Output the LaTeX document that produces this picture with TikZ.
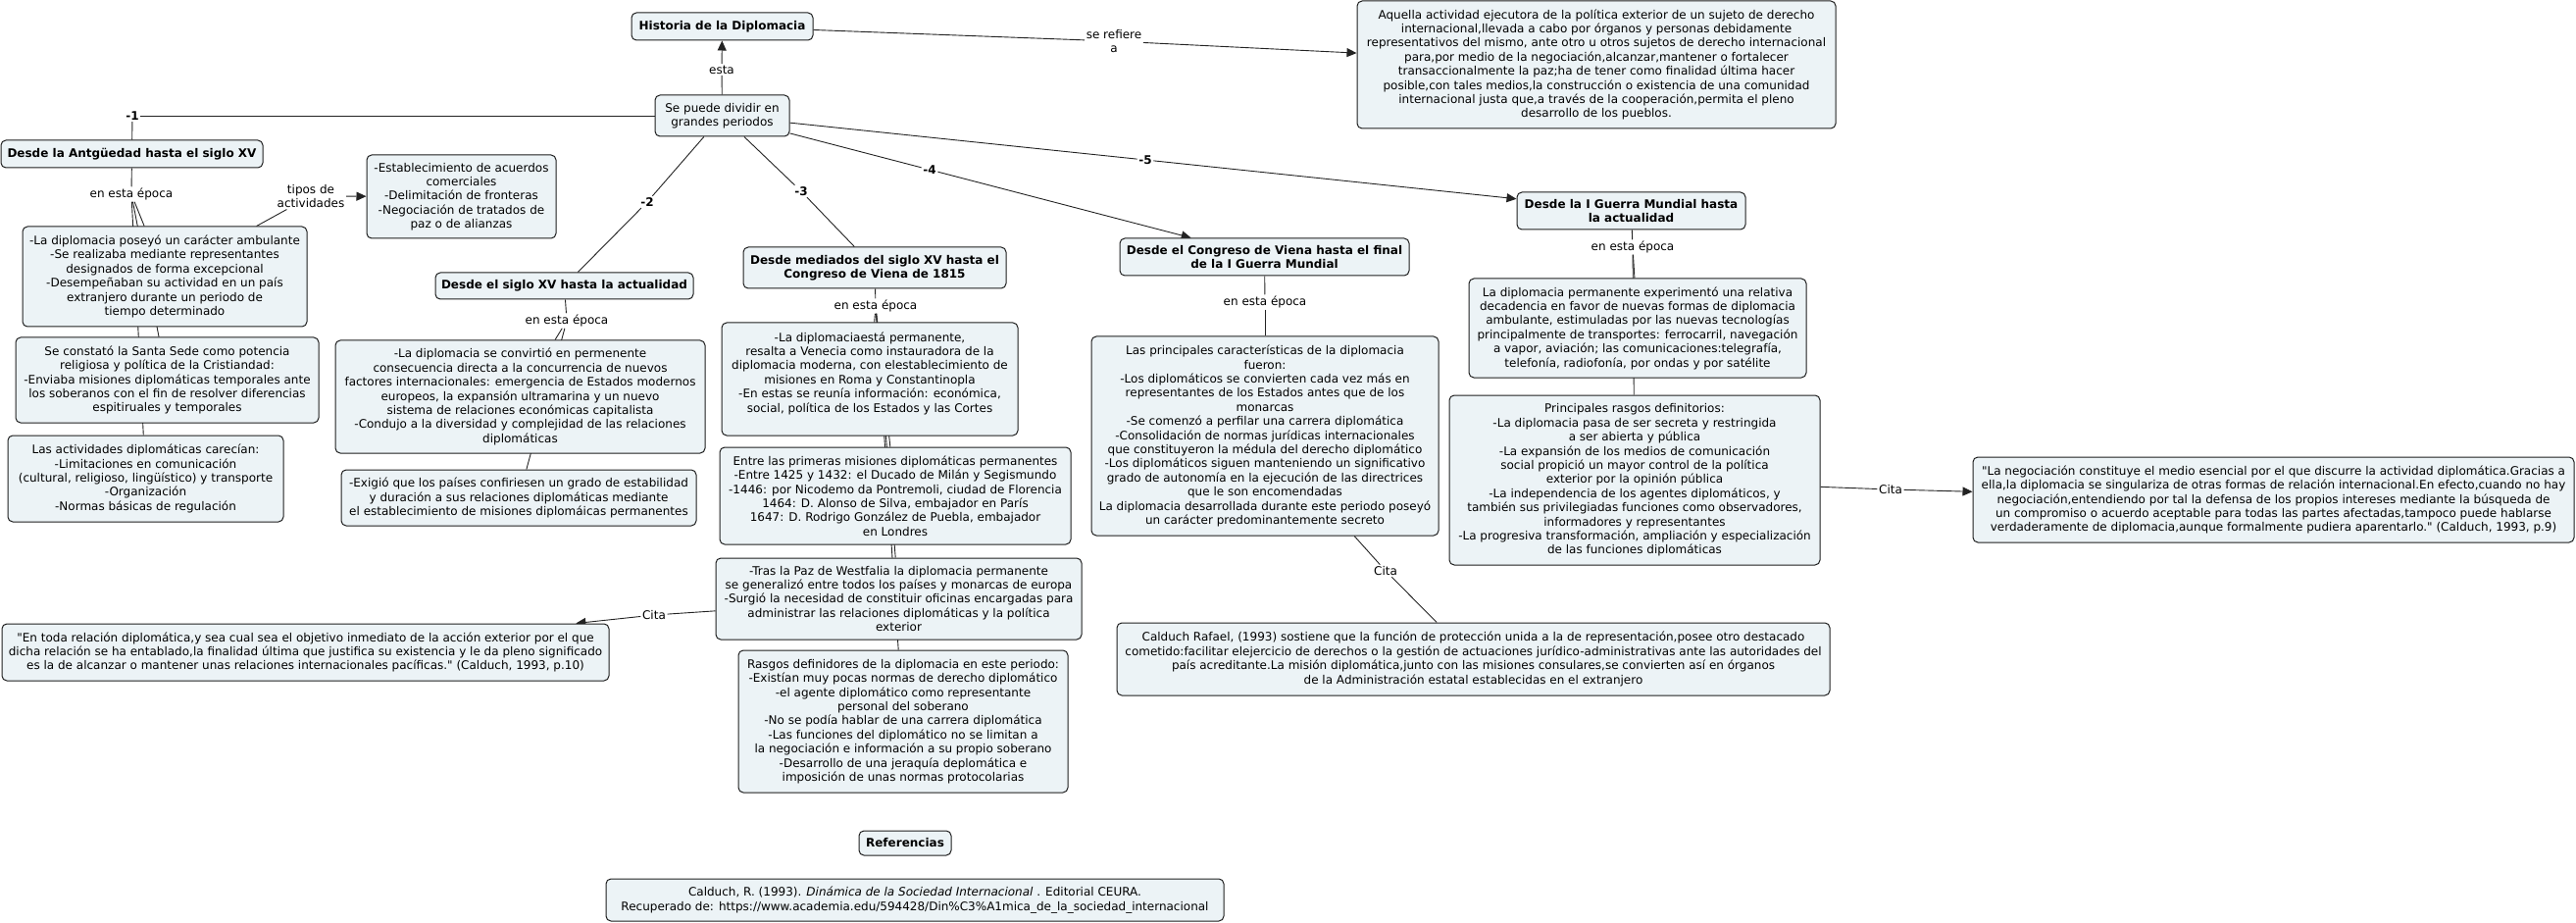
\documentclass[tikz,border=0pt]{standalone}
\usepackage{fontspec}
\setmainfont{DejaVu Sans}
\newfontfamily\plainq{DejaVu Sans}
\newcommand{\dq}{{\plainq"}}
\usetikzlibrary{arrows.meta}
\pgfdeclarelayer{background}
\pgfsetlayers{background,main}
\definecolor{boxfill}{RGB}{236,243,246}
\definecolor{boxline}{RGB}{30,30,30}
\definecolor{linkcol}{RGB}{35,35,35}
\tikzset{
 concept/.style={draw=boxline, fill=boxfill, rounded corners=5pt, line width=1pt, align=center, inner sep=0pt, font=\fontsize{12}{14.4}\selectfont},
 ctitle/.style={concept, font=\fontsize{12}{14.4}\selectfont\bfseries},
 lbl/.style={align=center, inner sep=1.5pt, font=\fontsize{12}{14.4}\selectfont},
 nlbl/.style={align=center, inner sep=1.5pt, font=\fontsize{12}{14.4}\selectfont\bfseries},
 link/.style={draw=linkcol, line width=0.9pt},
 arr/.style={link, -{Triangle[length=10pt,width=9pt]}},
}
\newcommand{\mkbox}[7][concept]{\node[#1, minimum width={#5-#3}, minimum height={#6-#4}] (#2) at ({(#3+#5)/2},{(#4+#6)/2}) {#7};}
\begin{document}
\begin{tikzpicture}[x=1pt,y=-1pt]
\useasboundingbox (0,0) rectangle (2627,941);
% concepts
\mkbox[ctitle]{hist}{644}{13}{829}{41}{Historia de la Diplomacia}
\mkbox{sepuede}{668}{97}{805}{139}{Se puede dividir en\\grandes periodos}
\mkbox{aquella}{1384}{1}{1872}{131}{Aquella actividad ejecutora de la política exterior de un sujeto de derecho\\internacional,llevada a cabo por órganos y personas debidamente\\representativos del mismo, ante otro u otros sujetos de derecho internacional\\para,por medio de la negociación,alcanzar,mantener o fortalecer\\transaccionalmente la paz;ha de tener como finalidad última hacer\\posible,con tales medios,la construcción o existencia de una comunidad\\internacional justa que,a través de la cooperación,permita el pleno\\desarrollo de los pueblos.}
\mkbox[ctitle]{antig}{1}{143}{268}{171}{Desde la Antgüedad hasta el siglo XV}
\mkbox{bone}{23}{231}{313}{333}{-La diplomacia poseyó un carácter ambulante\\-Se realizaba mediante representantes\\designados de forma excepcional\\-Desempeñaban su actividad en un país\\extranjero durante un periodo de\\tiempo determinado}
\mkbox{btwo}{16}{344}{325}{431}{Se constató la Santa Sede como potencia\\religiosa y política de la Cristiandad:\\-Enviaba misiones diplomáticas temporales ante\\los soberanos con el fin de resolver diferencias\\espitiruales y temporales}
\mkbox{bthree}{8}{444}{289}{532}{Las actividades diplomáticas carecían:\\-Limitaciones en comunicación\\(cultural, religioso, lingüístico) y transporte\\-Organización\\-Normas básicas de regulación}
\mkbox{estab}{374}{158}{567}{243}{-Establecimiento de acuerdos\\comerciales\\-Delimitación de fronteras\\-Negociación de tratados de\\paz o de alianzas}
\mkbox[ctitle]{sxv}{444}{278}{707}{305}{Desde el siglo XV hasta la actualidad}
\mkbox{conv}{342}{347}{719}{462}{-La diplomacia se convirtió en permenente\\consecuencia directa a la concurrencia de nuevos\\factores internacionales: emergencia de Estados modernos\\europeos, la expansión ultramarina y un nuevo\\sistema de relaciones económicas capitalista\\-Condujo a la diversidad y complejidad de las relaciones\\diplomáticas}
\mkbox{exig}{348}{479}{710}{536}{-Exigió que los países confiriesen un grado de estabilidad\\y duración a sus relaciones diplomáticas mediante\\el establecimiento de misiones diplomáicas permanentes}
\mkbox[ctitle]{med}{758}{252}{1026}{294}{Desde mediados del siglo XV hasta el\\Congreso de Viena de 1815}
\mkbox{estaperm}{736}{329}{1038}{444}{-La diplomaciaestá permanente,\\resalta a Venecia como instauradora de la\\diplomacia moderna, con elestablecimiento de\\misiones en Roma y Constantinopla\\-En estas se reunía información: económica,\\social, política de los Estados y las Cortes\\ \mbox{}}
\mkbox{entre}{734}{456}{1092}{555}{Entre las primeras misiones diplomáticas permanentes\\-Entre 1425 y 1432: el Ducado de Milán y Segismundo\\-1446: por Nicodemo da Pontremoli, ciudad de Florencia\\1464: D. Alonso de Silva, embajador en París\\1647: D. Rodrigo González de Puebla, embajador\\en Londres}
\mkbox{tras}{730}{569}{1103}{652}{-Tras la Paz de Westfalia la diplomacia permanente\\se generalizó entre todos los países y monarcas de europa\\-Surgió la necesidad de constituir oficinas encargadas para\\administrar las relaciones diplomáticas y la política\\exterior}
\mkbox{rasgos}{753}{663}{1089}{808}{Rasgos definidores de la diplomacia en este periodo:\\-Existían muy pocas normas de derecho diplomático\\-el agente diplomático como representante\\personal del soberano\\-No se podía hablar de una carrera diplomática\\-Las funciones del diplomático no se limitan a\\la negociación e información a su propio soberano\\-Desarrollo de una jeraquía deplomática e\\imposición de unas normas protocolarias}
\mkbox[ctitle]{viena}{1142}{243}{1437}{281}{Desde el Congreso de Viena hasta el final\\de la I Guerra Mundial}
\mkbox{princ}{1113}{343}{1467}{546}{Las principales características de la diplomacia\\fueron:\\-Los diplomáticos se convierten cada vez más en\\representantes de los Estados antes que de los\\monarcas\\-Se comenzó a perfilar una carrera diplomática\\-Consolidación de normas jurídicas internacionales\\que constituyeron la médula del derecho diplomático\\-Los diplomáticos siguen manteniendo un significativo\\grado de autonomía en la ejecución de las directrices\\que le son encomendadas\\La diplomacia desarrollada durante este periodo poseyó\\un carácter predominantemente secreto}
\mkbox{calr}{1139}{635}{1866}{709}{Calduch Rafael, (1993) sostiene que la función de protección unida a la de representación,posee otro destacado\\cometido:facilitar elejercicio de derechos o la gestión de actuaciones jurídico-administrativas ante las autoridades del\\país acreditante.La misión diplomática,junto con las misiones consulares,se convierten así en órganos\\de la Administración estatal establecidas en el extranjero}
\mkbox[ctitle]{guerra}{1547}{196}{1780}{234}{Desde la I Guerra Mundial hasta\\la actualidad}
\mkbox{exper}{1498}{284}{1842}{385}{La diplomacia permanente experimentó una relativa\\decadencia en favor de nuevas formas de diplomacia\\ambulante, estimuladas por las nuevas tecnologías\\principalmente de transportes: ferrocarril, navegación\\a vapor, aviación; las comunicaciones:telegrafía,\\telefonía, radiofonía, por ondas y por satélite}
\mkbox{rasgd}{1478}{403}{1856}{576}{Principales rasgos definitorios:\\-La diplomacia pasa de ser secreta y restringida\\a ser abierta y pública\\-La expansión de los medios de comunicación\\social propició un mayor control de la política\\exterior por la opinión pública\\-La independencia de los agentes diplomáticos, y\\también sus privilegiadas funciones como observadores,\\informadores y representantes\\-La progresiva transformación, ampliación y especialización\\de las funciones diplomáticas}
\mkbox{quoter}{2012}{466}{2625}{553}{\dq La negociación constituye el medio esencial por el que discurre la actividad diplomática.Gracias a\\ella,la diplomacia se singulariza de otras formas de relación internacional.En efecto,cuando no hay\\negociación,entendiendo por tal la defensa de los propios intereses mediante la búsqueda de\\un compromiso o acuerdo aceptable para todas las partes afectadas,tampoco puede hablarse\\verdaderamente de diplomacia,aunque formalmente pudiera aparentarlo.\dq{} (Calduch, 1993, p.9)}
\mkbox{quotel}{2}{636}{621}{694}{\dq En toda relación diplomática,y sea cual sea el objetivo inmediato de la acción exterior por el que\\dicha relación se ha entablado,la finalidad última que justifica su existencia y le da pleno significado\\es la de alcanzar o mantener unas relaciones internacionales pacíficas.\dq{} (Calduch, 1993, p.10)}
\mkbox[ctitle]{refs}{876}{847}{970}{872}{Referencias}
\mkbox{reftext}{618}{896}{1248}{939}{Calduch, R. (1993). \textit{Dinámica de la Sociedad Internacional} . Editorial CEURA.\\Recuperado de: https://www.academia.edu/594428/Din\%C3\%A1mica\_de\_la\_sociedad\_internacional}
% link labels
\node[lbl] (lesta) at (736,71) {esta};
\node[lbl] (lref) at (1136,42) {se refiere\\a};
\node[nlbl] (lone) at (135,118) {-1};
\node[nlbl] (ltwo) at (660,206) {-2};
\node[nlbl] (lthree) at (817,195) {-3};
\node[nlbl] (lfour) at (948,173) {-4};
\node[nlbl] (lfive) at (1168,163) {-5};
\node[lbl] (lea) at (134,198) {en esta época};
\node[lbl] (ltipos) at (317,200) {tipos de\\actividades};
\node[lbl] (lexv) at (578,327) {en esta época};
\node[lbl] (lemed) at (893,312) {en esta época};
\node[lbl] (levie) at (1290,308) {en esta época};
\node[lbl] (legue) at (1665,252) {en esta época};
\node[lbl] (citav) at (1413,582) {Cita};
\node[lbl] (citar) at (1928,499) {Cita};
\node[lbl] (cital) at (667,627) {Cita};
% links
\begin{pgfonlayer}{background}
\draw[link] (sepuede) -- (lesta); \draw[arr] (lesta) -- (hist);
\draw[link] (hist) -- (lref); \draw[arr] (lref) -- (aquella);
\draw[link] (sepuede) -- (lone); \draw[link] (lone) -- (antig);
\draw[link] (sepuede) -- (ltwo); \draw[link] (ltwo) -- (sxv);
\draw[link] (sepuede) -- (lthree); \draw[link] (lthree) -- (med);
\draw[link] (sepuede) -- (lfour); \draw[arr] (lfour) -- (viena);
\draw[link] (sepuede) -- (lfive); \draw[arr] (lfive) -- (guerra);
\draw[link] (antig) -- (lea);
\draw[link] (lea) -- (bone); \draw[link] (lea) -- (btwo); \draw[link] (lea) -- (bthree);
\draw[link] (bone) -- (ltipos); \draw[arr] (ltipos) -- (estab);
\draw[link] (sxv) -- (lexv);
\draw[link] (lexv) -- (conv); \draw[link] (lexv) -- (exig);
\draw[link] (med) -- (lemed);
\draw[link] (lemed) -- (estaperm); \draw[link] (lemed) -- (entre); \draw[link] (lemed) -- (tras); \draw[link] (lemed) -- (rasgos);
\draw[link] (tras) -- (cital); \draw[arr] (cital) -- (quotel);
\draw[link] (viena) -- (levie); \draw[link] (levie) -- (princ);
\draw[link] (princ) -- (citav); \draw[link] (citav) -- (calr);
\draw[link] (guerra) -- (legue);
\draw[link] (legue) -- (exper); \draw[link] (legue) -- (rasgd);
\draw[link] (rasgd) -- (citar); \draw[arr] (citar) -- (quoter);
\end{pgfonlayer}
\end{tikzpicture}
\end{document}
